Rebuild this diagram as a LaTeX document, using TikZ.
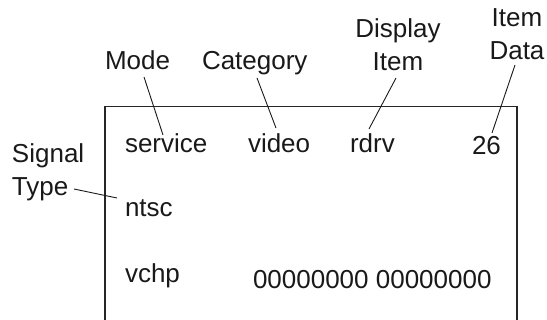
\documentclass[tikz,border=0pt]{standalone}
\usepackage{fontspec}
\setmainfont{Liberation Sans}
\begin{document}
\begin{tikzpicture}[x=1pt,y=-1pt,
  lbl/.style={inner sep=0pt,outer sep=0pt,font=\fontsize{26}{33}\selectfont,text=black!90},
  lead/.style={line width=0.9pt,black!90},
  frame/.style={line width=1.3pt,black!85}]
\useasboundingbox (0,0) rectangle (547,320);
% box (open at the bottom of the picture)
\draw[frame] (105,320) -- (105,106.5) -- (517,106.5) -- (517,320);
% labels above / left
\node[lbl,anchor=base west] (mode) at (105,70) {Mode};
\node[lbl,anchor=base west] (category) at (202,70) {Category};
\node[lbl,align=center,anchor=center] (display) at (398,45) {Display\\Item};
\node[lbl,align=center,anchor=center] (itemdata) at (517,34) {Item\\Data};
\node[lbl,align=left,anchor=west] (signal) at (12,172) {Signal\\Type};
% texts in box
\node[lbl,anchor=base west] (service) at (125,153) {service};
\node[lbl,anchor=base west] (video) at (248,153) {video};
\node[lbl,anchor=base west] (rdrv) at (350,153) {rdrv};
\node[lbl,anchor=base west] (num) at (472,155) {26};
\node[lbl,anchor=base west] (ntsc) at (125,217) {ntsc};
\node[lbl,anchor=base west] (vchp) at (125,283) {vchp};
\node[lbl,anchor=base west] (zeros) at (253,289) {00000000 00000000};
% connector ends
\coordinate (m1) at (144,77);  \coordinate (m2) at (163,135);
\coordinate (c1) at (257,78);  \coordinate (c2) at (276,128);
\coordinate (d1) at (396,78);  \coordinate (d2) at (369,129);
\coordinate (i1) at (515,65);  \coordinate (i2) at (492,133);
\coordinate (s1) at (74,189);  \coordinate (s2) at (117,198);
\draw[lead] (m1) -- (m2);
\draw[lead] (c1) -- (c2);
\draw[lead] (d1) -- (d2);
\draw[lead] (i1) -- (i2);
\draw[lead] (s1) -- (s2);
\end{tikzpicture}
\end{document}
